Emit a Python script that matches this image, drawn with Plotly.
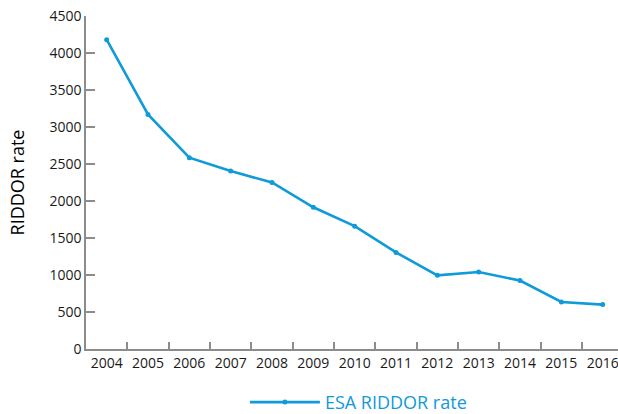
import plotly.graph_objects as go

years = ["2004", "2005", "2006", "2007", "2008", "2009", "2010",
         "2011", "2012", "2013", "2014", "2015", "2016"]
riddor_rate = [4180, 3170, 2585, 2405, 2250, 1915, 1660,
               1305, 995, 1040, 925, 635, 600]
y_ticks = [0, 500, 1000, 1500, 2000, 2500, 3000, 3500, 4000, 4500]

blue = "#0f9ad8"
axis_grey = "#8c8c8c"
font_family = "Open Sans, Noto Sans, sans-serif"

fig = go.Figure()
fig.add_trace(go.Scatter(
    x=years, y=riddor_rate, mode="lines+markers",
    name="ESA RIDDOR rate",
    line=dict(color=blue, width=2.6),
    marker=dict(color=blue, size=5),
))

fig.update_layout(
    width=618, height=414,
    margin=dict(l=86, r=0, t=16, b=65),
    paper_bgcolor="white", plot_bgcolor="white",
    font=dict(family=font_family, size=14, color="#1a1a1a"),
    showlegend=True,
    legend=dict(orientation="h", x=0.512, xanchor="center",
                yref="container", y=0.028, yanchor="middle",
                font=dict(size=18, color=blue), itemwidth=70),
)
fig.update_xaxes(
    type="category", range=[-0.5, 12.37], tickangle=0, automargin=False,
    showline=True, linecolor=axis_grey, linewidth=1.5,
    ticks="inside", tickson="boundaries", ticklen=7, tickcolor=axis_grey,
    tickwidth=1.5, showgrid=False, zeroline=False,
)
fig.update_yaxes(
    range=[0, 4500], tickvals=y_ticks, automargin=False,
    showline=True, linecolor=axis_grey, linewidth=1.5,
    ticks="inside", ticklen=9, tickcolor=axis_grey, tickwidth=1.5,
    showgrid=False, zeroline=False,
    title=dict(text="RIDDOR rate", font=dict(size=18, color="#000000"),
               standoff=20),
)

fig.write_html("out.html")
